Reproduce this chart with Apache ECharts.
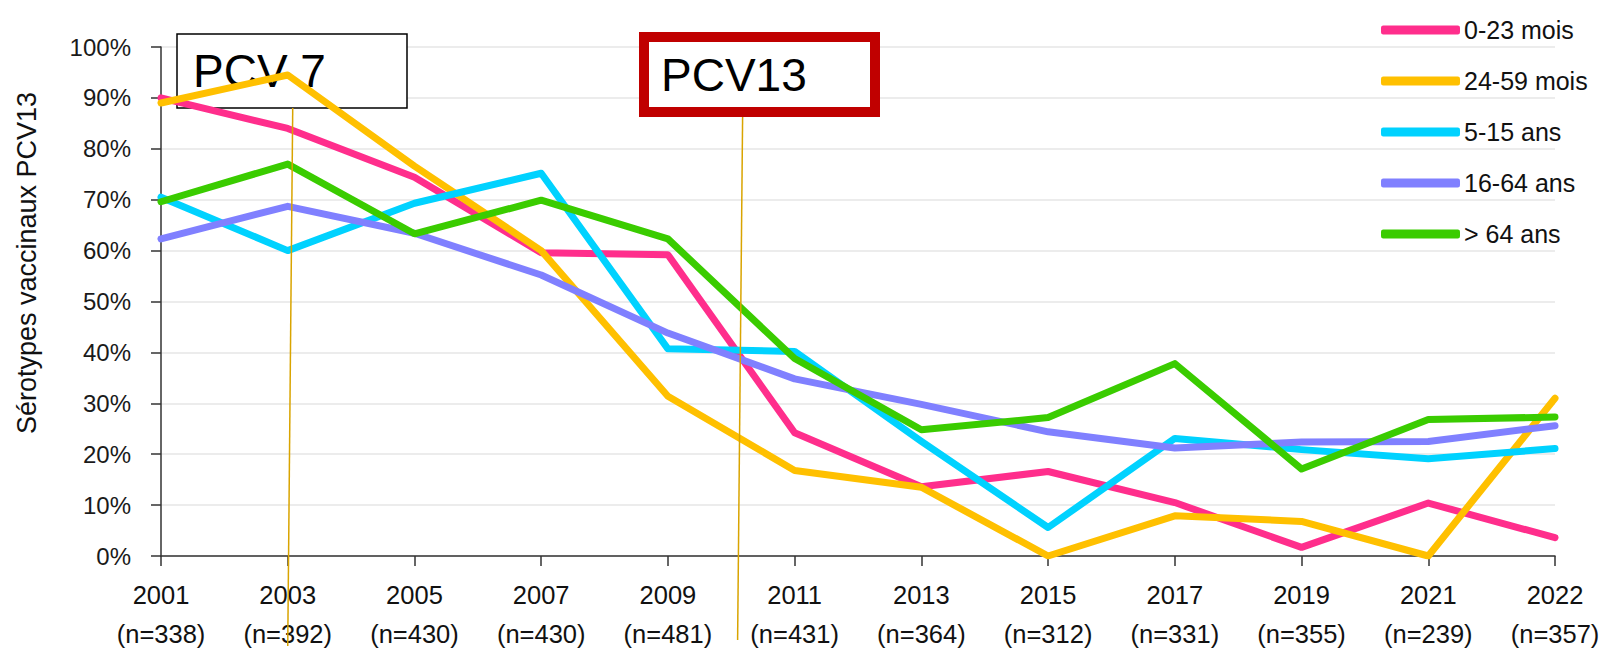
<!DOCTYPE html>
<html>
<head>
<meta charset="utf-8">
<script src="https://cdn.jsdelivr.net/npm/echarts@6/dist/echarts.min.js"></script>
<style>
html,body{margin:0;padding:0;background:#fff;}
#chart{width:1604px;height:653px;}
</style>
</head>
<body>
<div id="chart"></div>
<script>
const years = ['2001','2003','2005','2007','2009','2011','2013','2015','2017','2019','2021','2022'];
const sampleSizes = ['338','392','430','430','481','431','364','312','331','355','239','357'];
const seriesNames = ['0-23 mois','24-59 mois','5-15 ans','16-64 ans','> 64 ans'];
const age0to23m = [90, 84, 74.4, 59.6, 59.2, 24.2, 13.6, 16.6, 10.5, 1.7, 10.4, 3.6];
const age24to59m = [89, 94.5, 76.6, 60, 31.4, 16.8, 13.5, 0, 7.9, 6.8, 0, 31];
const age5to15y = [70.5, 60, 69.3, 75.2, 40.7, 40.2, 22.5, 5.6, 23.1, 20.9, 19.1, 21.1];
const age16to64y = [62.3, 68.7, 63.4, 55.2, 43.8, 34.8, 29.8, 24.4, 21.2, 22.4, 22.5, 25.6];
const age65plus = [69.6, 77, 63.3, 69.9, 62.3, 38.8, 24.8, 27.2, 37.8, 17.1, 26.8, 27.3];
const yTicks = {min: 0, max: 100, interval: 10};
const colors = ['#FF2E8C', '#FFC000', '#00D2FF', '#8080FF', '#3ACC00'];

function hasFont(name) {
  const ctx = document.createElement('canvas').getContext('2d');
  const s = 'abcdefghijklmnopqrstuvwxyz0123456789%()=';
  ctx.font = '40px monospace';
  const a = ctx.measureText(s).width;
  ctx.font = '40px "' + name + '", monospace';
  const b = ctx.measureText(s).width;
  return Math.abs(a - b) > 0.5;
}
const FONT = '"Liberation Sans", Arial, sans-serif';
const narrow = hasFont('Liberation Sans Narrow');
const NFONT = narrow ? '"Liberation Sans Narrow", "Liberation Sans", sans-serif' : FONT;
const sz = narrow ? {y: 29, x: 30, legend: 30} : {y: 24, x: 25.5, legend: 25};

const chart = echarts.init(document.getElementById('chart'), null, {renderer: 'svg'});
const allData = [age0to23m, age24to59m, age5to15y, age16to64y, age65plus];

const option = {
  backgroundColor: '#fff',
  animation: false,
  grid: {left: 161, right: 49, top: 47, bottom: 95, containLabel: false},
  legend: {
    orient: 'vertical',
    left: 1376,
    top: 11,
    icon: 'roundRect',
    itemWidth: 79,
    itemHeight: 9,
    itemGap: 23,
    textStyle: {fontFamily: NFONT, fontSize: sz.legend, color: '#111', lineHeight: 28, padding: [0, 0, 0, -1]},
    data: seriesNames
  },
  xAxis: {
    type: 'category',
    data: years,
    boundaryGap: false,
    axisLine: {lineStyle: {color: '#333', width: 1.5}},
    axisTick: {show: true, length: 10, alignWithLabel: true, lineStyle: {color: '#333', width: 1.5}},
    axisLabel: {
      fontFamily: NFONT, fontSize: sz.x, color: '#111', lineHeight: 39, margin: 19,
      interval: 0,
      formatter: function (v, i) { return v + '\n(n=' + sampleSizes[i] + ')'; }
    },
    splitLine: {show: false}
  },
  yAxis: {
    type: 'value',
    min: yTicks.min, max: yTicks.max, interval: yTicks.interval,
    axisLine: {show: true, lineStyle: {color: '#333', width: 1.5}},
    axisTick: {show: true, length: 10, lineStyle: {color: '#333', width: 1.5}},
    axisLabel: {fontFamily: NFONT, fontSize: sz.y, color: '#1a1a1a', margin: 30, formatter: '{value}%'},
    splitLine: {show: true, lineStyle: {color: '#e6e6e6', width: 1.5}}
  },
  series: seriesNames.map((name, i) => ({
    name: name,
    type: 'line',
    data: allData[i],
    symbol: 'none',
    z: 3,
    color: colors[i],
    lineStyle: {width: 7, color: colors[i], cap: 'round', join: 'round'}
  }))
};
chart.setOption(option);

const x2003 = chart.convertToPixel({xAxisIndex: 0}, '2003');
const x2009 = chart.convertToPixel({xAxisIndex: 0}, '2009');
const x2011 = chart.convertToPixel({xAxisIndex: 0}, '2011');
const xPcv13 = x2009 + (x2011 - x2009) * 0.55;

chart.setOption({
  graphic: [
    {
      type: 'text', z: 5,
      x: 27, y: 263, rotation: Math.PI / 2,
      style: {text: 'Sérotypes vaccinaux PCV13', fontFamily: FONT, fontSize: 27, fill: '#111', textAlign: 'center', textVerticalAlign: 'middle'}
    },
    {
      type: 'rect', z: 1,
      shape: {x: 177, y: 34, width: 230, height: 74},
      style: {fill: '#fff', stroke: '#000', lineWidth: 1.5}
    },
    {
      type: 'text', z: 1,
      x: 193, y: 71,
      style: {text: 'PCV 7', fontFamily: FONT, fontSize: 46, fill: '#000', textVerticalAlign: 'middle'}
    },
    {
      type: 'rect', z: 5,
      shape: {x: 644, y: 37, width: 231, height: 75},
      style: {fill: '#fff', stroke: '#C00000', lineWidth: 10}
    },
    {
      type: 'text', z: 6,
      x: 661, y: 75,
      style: {text: 'PCV13', fontFamily: FONT, fontSize: 46, fill: '#000', textVerticalAlign: 'middle'}
    },
    {
      type: 'line', z: 10,
      shape: {x1: x2003 + 5, y1: 108, x2: x2003, y2: 646},
      style: {stroke: '#D9A400', lineWidth: 1.5}
    },
    {
      type: 'line', z: 10,
      shape: {x1: xPcv13 + 5, y1: 117, x2: xPcv13, y2: 640},
      style: {stroke: '#D9A400', lineWidth: 1.5}
    }
  ]
});
</script>
</body>
</html>
